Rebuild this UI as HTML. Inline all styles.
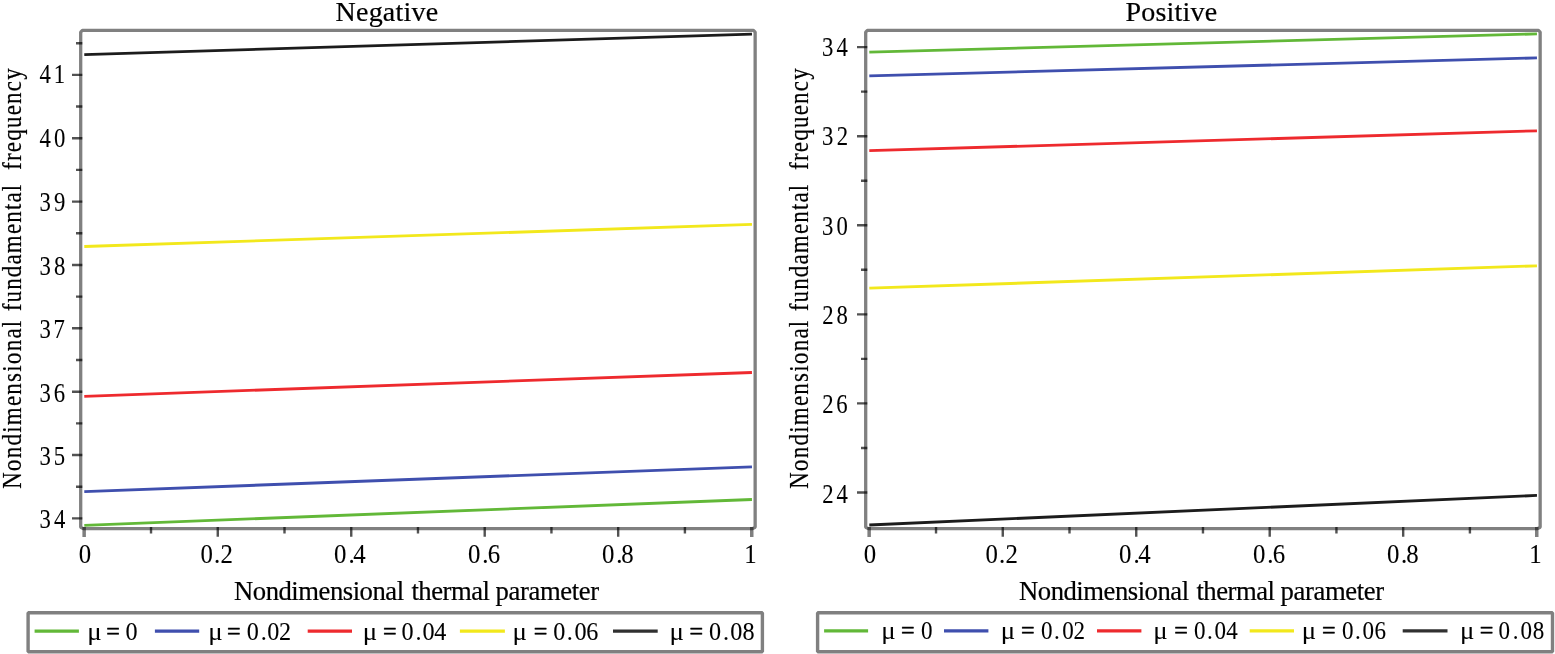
<!DOCTYPE html>
<html lang="en"><head><meta charset="utf-8"><title>Nondimensional fundamental frequency vs nondimensional thermal parameter</title>
<style>
html,body{margin:0;padding:0;background:#fff;overflow:hidden}
body{width:1555px;height:654px;position:relative}
svg{display:block;position:absolute;left:0;top:0}
text{font-family:"Liberation Serif","DejaVu Serif",serif;fill:#000;font-size:26.67px;white-space:pre;stroke:#000;stroke-width:0.2px;stroke-linejoin:round}
.ti{font-size:28px;letter-spacing:0.2px}
.d{font-size:26.4px;stroke-width:0.08px}
.mu{font-size:25.5px;stroke-width:0.05px}
.eq{font-size:22.25px;stroke-width:0.52px}
.fr{fill:none;stroke:#808080;stroke-width:3.3;stroke-linejoin:bevel}
.tk{fill:none;stroke:#000;stroke-opacity:0.68;stroke-width:2.4}
.ln{fill:none;stroke-width:2.85}
.lg{fill:none;stroke-width:3.2}
</style></head><body>
<svg width="1555" height="654" viewBox="0 0 1555 654" role="img" aria-label="Nondimensional fundamental frequency versus nondimensional thermal parameter, negative and positive cases">
<rect x="0" y="0" width="1555" height="654" fill="#fff"/>
<g>
<line class="ln" stroke="#62b838" x1="84.3" y1="525.3" x2="751.95" y2="499.5"/>
<line class="ln" stroke="#3f4fae" x1="84.3" y1="491.6" x2="751.95" y2="466.8"/>
<line class="ln" stroke="#ee2a2e" x1="84.3" y1="396.3" x2="751.95" y2="372.5"/>
<line class="ln" stroke="#f2e81c" x1="84.3" y1="246.5" x2="751.95" y2="224.4"/>
<line class="ln" stroke="#1c1c1c" x1="84.3" y1="54.6" x2="751.95" y2="34.2"/>
<path class="fr" d="M83.3 528.6L80.7 527.2V32.05L82.4 30.35H753.45L755.15 32.05V527.2L752.55 528.6Z"/>
<path class="tk" d="M72 74.88H82.3M72 138.24H82.3M72 201.6H82.3M72 264.96H82.3M72 328.32H82.3M72 391.68H82.3M72 455.04H82.3M72 518.4H82.3M76 486.72H82.3M76 423.36H82.3M76 360H82.3M76 296.64H82.3M76 233.28H82.3M76 169.92H82.3M76 106.56H82.3M76 43.2H82.3M151.03 527V533.6M217.77 527V536.8M284.5 527V533.6M351.24 527V536.8M417.98 527V533.6M484.71 527V536.8M551.44 527V533.6M618.18 527V536.8M684.91 527V533.6"/>
<path class="tk" style="stroke-width:3.5;stroke-opacity:0.5" d="M84.15 527V536.9M751.75 527V536.9"/>
<text class="d" transform="translate(0 83.3) scale(0.86 1)" x="46.02 62.45" y="0">41</text>
<text class="d" transform="translate(0 147.3) scale(0.86 1)" x="46.02 62.82" y="0">40</text>
<text class="d" transform="translate(0 210.8) scale(0.86 1)" x="45.96 62.94" y="0">39</text>
<text class="d" transform="translate(0 274.5) scale(0.86 1)" x="45.96 62.82" y="0">38</text>
<text class="d" transform="translate(0 338.2) scale(0.86 1)" x="45.96 62.33" y="0">37</text>
<text class="d" transform="translate(0 401.8) scale(0.86 1)" x="45.96 62.65" y="0">36</text>
<text class="d" transform="translate(0 465) scale(0.86 1)" x="45.96 62.57" y="0">35</text>
<text class="d" transform="translate(0 528.1) scale(0.86 1)" x="45.96 62.77" y="0">34</text>
<text class="d" transform="translate(0 563.2) scale(0.94 1)" x="83.79" y="0">0</text>
<text class="d" transform="translate(0 563.2) scale(0.94 1)" x="213.37 227.59 234.63" y="0">0.2</text>
<text class="d" transform="translate(0 563.2) scale(0.94 1)" x="355.28 370.67 375.92" y="0">0.4</text>
<text class="d" transform="translate(0 563.2) scale(0.94 1)" x="497.94 513.01 518.8" y="0">0.6</text>
<text class="d" transform="translate(0 563.2) scale(0.94 1)" x="640.39 655.46 660.92" y="0">0.8</text>
<text class="d" transform="translate(0 563.2) scale(0.94 1)" x="791.69" y="0">1</text>
<text class="ti" x="335.6" y="20.5">Negative</text>
<text y="599.7"><tspan x="234" style="letter-spacing:-0.47px">Nondimensional</tspan> <tspan x="411.45" style="letter-spacing:-0.48px">thermal</tspan> <tspan x="495.5" style="letter-spacing:-0.37px">parameter</tspan></text>
<text transform="translate(21 488.2) rotate(-90) scale(0.86 1)" y="0"><tspan x="-0.77" style="letter-spacing:1.48px">Nondimensional</tspan> <tspan x="205.69" style="letter-spacing:1.39px">fundamental</tspan> <tspan x="370.11" style="letter-spacing:1.45px">frequency</tspan></text>
<rect class="fr" style="stroke-width:3.4" x="28.1" y="612.7" width="734.3" height="39.1"/>
<line class="lg" stroke="#62b838" x1="34.6" y1="631.1" x2="78.9" y2="631.1"/>
<text class="d" transform="scale(0.93 1)" y="639.7"><tspan class="mu" x="93.76" y="640" textLength="15.48" lengthAdjust="spacingAndGlyphs">μ</tspan><tspan x="107.74" y="639.45"> </tspan><tspan class="eq" x="114.19" y="639.45" textLength="14.62" lengthAdjust="spacingAndGlyphs">=</tspan><tspan x="127.99 134.98" y="639.7" style="font-size:26.0px"> 0</tspan></text>
<line class="lg" stroke="#3f4fae" x1="154.9" y1="631.1" x2="199.2" y2="631.1"/>
<text class="d" transform="scale(0.93 1)" y="639.7"><tspan class="mu" x="223.98" y="640" textLength="15.48" lengthAdjust="spacingAndGlyphs">μ</tspan><tspan x="237.53" y="639.45"> </tspan><tspan class="eq" x="243.98" y="639.45" textLength="14.62" lengthAdjust="spacingAndGlyphs">=</tspan><tspan x="258.42 265.41 280.38 287.45 299.88" y="639.7" style="font-size:26.0px"> 0.02</tspan></text>
<line class="lg" stroke="#ee2a2e" x1="307.7" y1="631.1" x2="352" y2="631.1"/>
<text class="d" transform="scale(0.93 1)" y="639.7"><tspan class="mu" x="390" y="640" textLength="15.48" lengthAdjust="spacingAndGlyphs">μ</tspan><tspan x="405.27" y="639.45"> </tspan><tspan class="eq" x="411.72" y="639.45" textLength="14.62" lengthAdjust="spacingAndGlyphs">=</tspan><tspan x="424.76 431.75 446.72 454.23 466.85" y="639.7" style="font-size:26.0px"> 0.04</tspan></text>
<line class="lg" stroke="#f2e81c" x1="459.9" y1="631.1" x2="504.9" y2="631.1"/>
<text class="d" transform="scale(0.93 1)" y="639.7"><tspan class="mu" x="550.97" y="640" textLength="15.48" lengthAdjust="spacingAndGlyphs">μ</tspan><tspan x="567.53" y="639.45"> </tspan><tspan class="eq" x="573.98" y="639.45" textLength="14.62" lengthAdjust="spacingAndGlyphs">=</tspan><tspan x="587.99 594.98 609.52 617.88 630.33" y="639.7" style="font-size:26.0px"> 0.06</tspan></text>
<line class="lg" stroke="#303030" x1="613" y1="631.1" x2="657.7" y2="631.1"/>
<text class="d" transform="scale(0.93 1)" y="639.7"><tspan class="mu" x="720" y="640" textLength="15.48" lengthAdjust="spacingAndGlyphs">μ</tspan><tspan x="734.95" y="639.45"> </tspan><tspan class="eq" x="741.4" y="639.45" textLength="14.62" lengthAdjust="spacingAndGlyphs">=</tspan><tspan x="755.41 762.4 777.48 785.3 798.42" y="639.7" style="font-size:26.0px"> 0.08</tspan></text>
</g>
<g>
<line class="ln" stroke="#62b838" x1="869.3" y1="52.2" x2="1536.95" y2="33.85"/>
<line class="ln" stroke="#3f4fae" x1="869.3" y1="75.9" x2="1536.95" y2="57.9"/>
<line class="ln" stroke="#ee2a2e" x1="869.3" y1="150.7" x2="1536.95" y2="130.8"/>
<line class="ln" stroke="#f2e81c" x1="869.3" y1="288.2" x2="1536.95" y2="265.8"/>
<line class="ln" stroke="#1c1c1c" x1="869.3" y1="525" x2="1536.95" y2="495.4"/>
<path class="fr" d="M868.3 528.6L865.7 527.2V32.05L867.4 30.35H1538.45L1540.15 32.05V527.2L1537.55 528.6Z"/>
<path class="tk" d="M857 47.1H867.3M857 136.18H867.3M857 225.26H867.3M857 314.34H867.3M857 403.42H867.3M857 492.5H867.3M861 447.96H867.3M861 358.88H867.3M861 269.8H867.3M861 180.72H867.3M861 91.64H867.3M936.03 527V533.6M1002.77 527V536.8M1069.5 527V533.6M1136.24 527V536.8M1202.97 527V533.6M1269.71 527V536.8M1336.44 527V533.6M1403.18 527V536.8M1469.91 527V533.6"/>
<path class="tk" style="stroke-width:3.5;stroke-opacity:0.5" d="M869.15 527V536.9M1536.75 527V536.9"/>
<text class="d" transform="translate(0 55.8) scale(0.86 1)" x="955.96 972.65" y="0">34</text>
<text class="d" transform="translate(0 145.3) scale(0.86 1)" x="955.96 972.85" y="0">32</text>
<text class="d" transform="translate(0 234.8) scale(0.86 1)" x="955.96 972.7" y="0">30</text>
<text class="d" transform="translate(0 323.8) scale(0.86 1)" x="956.22 972.7" y="0">28</text>
<text class="d" transform="translate(0 413.4) scale(0.86 1)" x="956.22 972.53" y="0">26</text>
<text class="d" transform="translate(0 502.6) scale(0.86 1)" x="956.22 972.65" y="0">24</text>
<text class="d" transform="translate(0 563.2) scale(0.94 1)" x="918.9" y="0">0</text>
<text class="d" transform="translate(0 563.2) scale(0.94 1)" x="1048.47 1062.69 1069.74" y="0">0.2</text>
<text class="d" transform="translate(0 563.2) scale(0.94 1)" x="1190.39 1205.78 1211.03" y="0">0.4</text>
<text class="d" transform="translate(0 563.2) scale(0.94 1)" x="1333.05 1348.12 1353.91" y="0">0.6</text>
<text class="d" transform="translate(0 563.2) scale(0.94 1)" x="1475.49 1490.57 1496.03" y="0">0.8</text>
<text class="d" transform="translate(0 563.2) scale(0.94 1)" x="1626.8" y="0">1</text>
<text class="ti" x="1125.5" y="20.5">Positive</text>
<text y="599.7"><tspan x="1019" style="letter-spacing:-0.47px">Nondimensional</tspan> <tspan x="1196.45" style="letter-spacing:-0.48px">thermal</tspan> <tspan x="1280.5" style="letter-spacing:-0.37px">parameter</tspan></text>
<text transform="translate(807.9 488.2) rotate(-90) scale(0.86 1)" y="0"><tspan x="-0.77" style="letter-spacing:1.48px">Nondimensional</tspan> <tspan x="205.69" style="letter-spacing:1.39px">fundamental</tspan> <tspan x="370.11" style="letter-spacing:1.45px">frequency</tspan></text>
<rect class="fr" style="stroke-width:3.4" x="817.6" y="612.7" width="734.9" height="39.1"/>
<line class="lg" stroke="#62b838" x1="824.1" y1="630.78" x2="868.1" y2="630.78"/>
<text class="d" transform="scale(0.9 1)" y="638.9"><tspan class="mu" x="979.11" y="639.2" textLength="16" lengthAdjust="spacingAndGlyphs">μ</tspan><tspan x="994.33" y="638.05"> </tspan><tspan class="eq" x="1001" y="638.05" textLength="15.11" lengthAdjust="spacingAndGlyphs">=</tspan><tspan x="1016.03 1023.25" y="638.9" style="font-size:25.6px"> 0</tspan></text>
<line class="lg" stroke="#3f4fae" x1="944" y1="630.78" x2="988.4" y2="630.78"/>
<text class="d" transform="scale(0.9 1)" y="638.9"><tspan class="mu" x="1111.89" y="639.2" textLength="16" lengthAdjust="spacingAndGlyphs">μ</tspan><tspan x="1127.67" y="638.05"> </tspan><tspan class="eq" x="1134.33" y="638.05" textLength="15.11" lengthAdjust="spacingAndGlyphs">=</tspan><tspan x="1149.36 1156.58 1171.2 1180.25 1192.65" y="638.9" style="font-size:25.6px"> 0.02</tspan></text>
<line class="lg" stroke="#ee2a2e" x1="1097" y1="630.78" x2="1141.4" y2="630.78"/>
<text class="d" transform="scale(0.9 1)" y="638.9"><tspan class="mu" x="1281.44" y="639.2" textLength="16" lengthAdjust="spacingAndGlyphs">μ</tspan><tspan x="1298.11" y="638.05"> </tspan><tspan class="eq" x="1304.78" y="638.05" textLength="15.11" lengthAdjust="spacingAndGlyphs">=</tspan><tspan x="1319.36 1326.58 1341.2 1349.58 1362.38" y="638.9" style="font-size:25.6px"> 0.04</tspan></text>
<line class="lg" stroke="#f2e81c" x1="1249.7" y1="630.78" x2="1294" y2="630.78"/>
<text class="d" transform="scale(0.9 1)" y="638.9"><tspan class="mu" x="1446.44" y="639.2" textLength="16" lengthAdjust="spacingAndGlyphs">μ</tspan><tspan x="1462.11" y="638.05"> </tspan><tspan class="eq" x="1468.78" y="638.05" textLength="15.11" lengthAdjust="spacingAndGlyphs">=</tspan><tspan x="1483.8 1491.03 1505.64 1513.8 1527.23" y="638.9" style="font-size:25.6px"> 0.06</tspan></text>
<line class="lg" stroke="#303030" x1="1402.7" y1="630.78" x2="1447.5" y2="630.78"/>
<text class="d" transform="scale(0.9 1)" y="638.9"><tspan class="mu" x="1622.22" y="639.2" textLength="16" lengthAdjust="spacingAndGlyphs">μ</tspan><tspan x="1637.44" y="638.05"> </tspan><tspan class="eq" x="1644.11" y="638.05" textLength="15.11" lengthAdjust="spacingAndGlyphs">=</tspan><tspan x="1657.69 1664.92 1680.87 1689.58 1703.03" y="638.9" style="font-size:25.6px"> 0.08</tspan></text>
</g>
</svg>
</body></html>
